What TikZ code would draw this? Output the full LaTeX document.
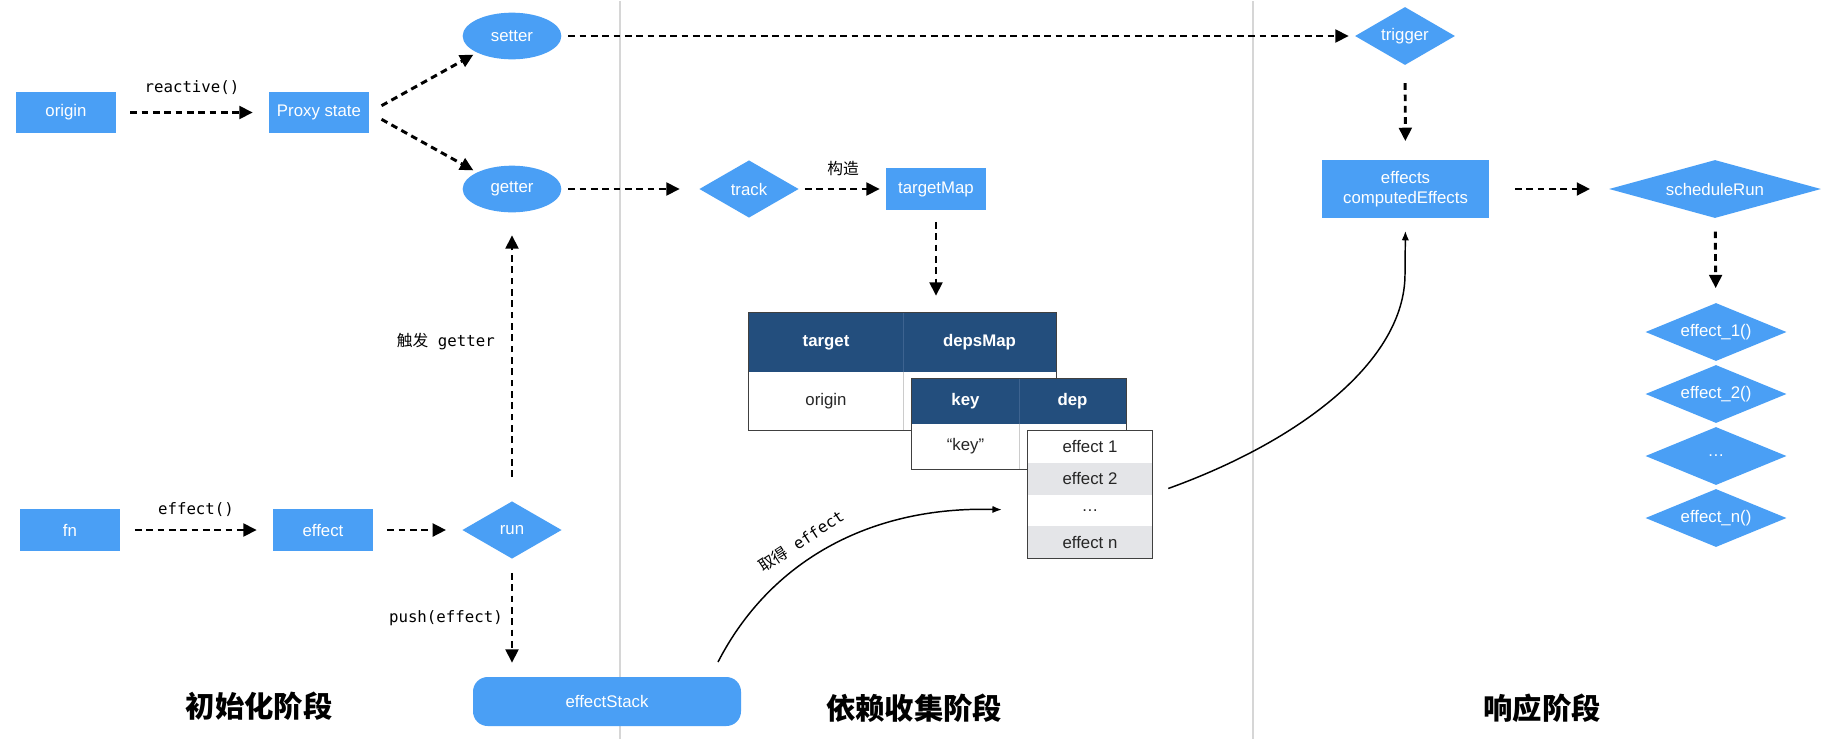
\documentclass[tikz,border=0pt]{standalone}
\usepackage{fontspec}
\setmainfont{Liberation Sans}
\newfontfamily\codefont{DejaVu Sans Mono}
\newfontfamily\cjkfont{Noto Sans CJK SC}
\usetikzlibrary{arrows.meta,shapes.geometric}
\definecolor{nodeblue}{HTML}{4A9FF5}
\definecolor{headblue}{HTML}{234E7D}
\definecolor{headline}{HTML}{3D6390}
\definecolor{rowgrey}{HTML}{E4E5E8}
\definecolor{sepgrey}{HTML}{D6D6D6}
\newcommand\boxsize{\fontsize{12.6}{14.5}\selectfont}

\begin{document}
\begin{tikzpicture}[x=0.75pt,y=-0.75pt,
    box/.style={rectangle, fill=nodeblue, text=white, inner sep=0pt,
      minimum width=75pt, minimum height=31pt, font=\boxsize},
    oval/.style={ellipse, fill=nodeblue, text=white, inner sep=0pt,
      minimum width=74pt, minimum height=35pt, font=\boxsize},
    rhomb/.style={diamond, aspect=2, fill=nodeblue, text=white, inner sep=0pt,
      minimum width=74.5pt, minimum height=43pt, font=\boxsize},
    stackbox/.style={rectangle, rounded corners=11pt, fill=nodeblue, text=white,
      inner sep=0pt, minimum width=201pt, minimum height=36.75pt, font=\boxsize},
    headcell/.style={rectangle, fill=headblue, text=white, inner sep=0pt, font=\boxsize\bfseries},
    cell/.style={rectangle, fill=white, text=black!85, inner sep=0pt, font=\boxsize},
    code/.style={inner sep=0pt, font=\codefont\fontsize{11.8}{14}\selectfont},
    phase/.style={inner sep=0pt, font=\cjkfont\bfseries\fontsize{22}{26}\selectfont},
    flow/.style={line width=2.2pt, dash pattern=on 5pt off 3.5pt, -{Triangle[length=10pt,width=9.5pt]}},
    fetch/.style={line width=1.1pt, -{Latex[length=7pt,width=5.5pt]}},
    frame/.style={draw=black!75, line width=0.9pt},
    sep/.style={draw=sepgrey, line width=1.5pt}]

  \fill[white] (0,0) rectangle (1826,738);
  \draw[sep] (620,0) -- (620,738);
  \draw[sep] (1253,0) -- (1253,738);

  \node[box] (origin) at (66,111.5) {origin};
  \node[box] (proxy) at (319,111.5) {Proxy state};
  \node[code] (lreactive) at (192,87) {reactive()};
  \node[oval] (setter) at (512,35) {setter};
  \node[oval] (getter) at (512,188) {getter};

  \node[box] (fn) at (70,529) {fn};
  \node[box] (effect) at (323,529) {effect};
  \node[code] (leffect) at (196,509) {effect()};
  \node[rhomb] (run) at (512,529) {run};
  \node[code, anchor=east] (ltrigger) at (495,341) {{\cjkfont 触发} getter};
  \node[code, anchor=east] (lpush) at (503,617) {push(effect)};
  \node[stackbox] (stack) at (607,700.5) {effectStack};

  \node[rhomb] (track) at (749,188) {track};
  \node[box] (tmap) at (936,188) {targetMap};
  \node[code] (lbuild) at (843,168) {\cjkfont 构造};

  \node[headcell, minimum width=115.5pt, minimum height=44.25pt] (htarget) at (826,341.5) {target};
  \node[headcell, minimum width=114.75pt, minimum height=44.25pt] (hdeps) at (979.5,341.5) {depsMap};
  \node[cell, minimum width=115.5pt, minimum height=43.5pt] (corigin) at (826,400) {origin};
  \node[cell, minimum width=114.75pt, minimum height=43.5pt] (cdeps) at (979.5,400) {};
  \draw[headline, line width=0.8pt] (htarget.north east) -- (htarget.south east);
  \draw[black!20, line width=0.8pt] (corigin.north east) -- (corigin.south east);
  \draw[frame] (htarget.north west) rectangle (cdeps.south east);

  \node[headcell, minimum width=80.25pt, minimum height=33.75pt] (hkey) at (965.5,400.5) {key};
  \node[headcell, minimum width=80.25pt, minimum height=33.75pt] (hdep) at (1072.5,400.5) {dep};
  \node[cell, minimum width=80.25pt, minimum height=33.75pt] (ckey) at (965.5,445.5) {“key”};
  \node[cell, minimum width=80.25pt, minimum height=33.75pt] (cdep) at (1072.5,445.5) {};
  \draw[headline, line width=0.8pt] (hkey.north east) -- (hkey.south east);
  \draw[black!20, line width=0.8pt] (ckey.north east) -- (ckey.south east);
  \draw[frame] (hkey.north west) rectangle (cdep.south east);

  \foreach \txt [count=\i] in {effect 1,effect 2,\dots,effect n}{
    \ifodd\i\relax\def\shade{white}\else\def\shade{rowgrey}\fi
    \node[cell, fill=\shade, minimum width=93pt, minimum height=23.8pt]
      (dep\i) at (1090,{430+31.75*(\i-0.5)}) {\txt};
  }
  \draw[frame] (dep1.north west) rectangle (dep4.south east);
  \node[code, rotate=33] (lgrab) at (801,540) {{\cjkfont 取得} effect};

  \node[rhomb, minimum width=75pt, minimum height=43.5pt] (trigger) at (1405,35) {trigger};
  \node[box, align=center, minimum width=125pt, minimum height=43.5pt] (effects) at (1405.5,188)
    {effects\\computedEffects};
  \node[rhomb, aspect=3.6, minimum width=159pt, minimum height=43.5pt] (sched) at (1715,188) {scheduleRun};
  \foreach \txt [count=\i] in {effect\_1(),effect\_2(),\dots,effect\_n()}
    \node[rhomb, aspect=2.4, minimum width=105.75pt, minimum height=43.5pt]
      (call\i) at (1716,{269+62*\i}) {\txt};

  \node[phase] (init) at (259,705) {初始化阶段};
  \node[phase] (collect) at (914,707) {依赖收集阶段};
  \node[phase] (respond) at (1542,707) {响应阶段};

  \draw[flow, shorten <=10.5pt, shorten >=12pt] (origin) -- (proxy);
  \draw[flow, shorten <=10.5pt, shorten >=3pt] (proxy.east) -- (setter.south west);
  \draw[flow, shorten <=10.5pt, shorten >=3pt] (proxy.east) -- (getter.north west);
  \draw[flow, shorten <=5pt, shorten >=4.5pt] (setter) -- (trigger);
  \draw[flow, shorten <=5pt, shorten >=14.5pt] (getter) -- (track);
  \draw[flow, shorten <=4.5pt, shorten >=4.5pt] (track) -- (tmap);
  \draw[flow, shorten <=9pt, shorten >=12.75pt] (tmap) -- (tmap |- htarget.north);
  \draw[flow, shorten <=13.5pt, shorten >=14pt] (trigger) -- (effects);
  \draw[flow, shorten <=19.5pt, shorten >=14pt] (effects) -- (sched);
  \draw[flow, shorten <=10pt, shorten >=11pt] (sched) -- (call1);
  \draw[flow, shorten <=11pt, shorten >=12pt] (fn) -- (effect);
  \draw[flow, shorten <=10.5pt, shorten >=12pt] (effect) -- (run);
  \draw[flow, shorten <=18pt, shorten >=17pt] (run) -- (getter);
  \draw[flow, shorten <=10.5pt, shorten >=10.5pt] (run) -- (run |- stack.north);

  \coordinate (grab) at (718,661);
  \draw[fetch, shorten >=19.5pt] (grab) .. controls (770,560) and (870,505) .. (dep3.west);
  \draw[fetch, shorten <=12.75pt, shorten >=9.5pt] (dep3.north east)
    .. controls (1300,440) and (1405,360) .. (1405,273) -- (effects.south);
\end{tikzpicture}
\end{document}
